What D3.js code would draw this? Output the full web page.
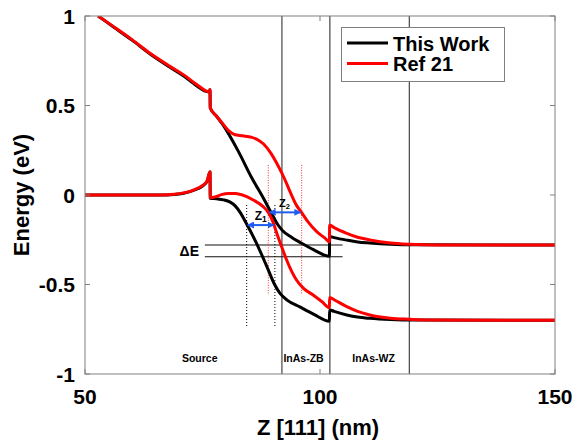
<!DOCTYPE html>
<html>
<head>
<meta charset="utf-8">
<script src="https://cdn.jsdelivr.net/npm/d3@7"></script>
<style>
  body { margin: 0; background: #fff; }
  svg { font-family: 'Liberation Sans', Arial, sans-serif; font-weight: bold; }
</style>
</head>
<body>
<div id="chart"></div>
<script>
// band edges, [z (nm), energy (eV)]
const thisWorkCB = [[52.8, 1.0], [56, 0.94], [60, 0.865], [64, 0.785], [68, 0.715], [71, 0.665], [73, 0.625], [74.5, 0.597], [75.7, 0.579], [76.4, 0.575], [76.6, 0.588], [76.65, 0.486], [78, 0.44], [79.4, 0.39], [82.6, 0.245], [85.5, 0.095], [88, -0.02], [89.5, -0.093], [91, -0.165], [92, -0.198], [94, -0.237], [96, -0.268], [98.6, -0.305], [102, -0.342], [102.05, -0.232], [103, -0.238], [105.7, -0.252], [108, -0.262], [110.6, -0.268], [115, -0.275], [120, -0.278], [150, -0.279]]
const ref21CB = [[52.8, 1.0], [56, 0.942], [60, 0.868], [64, 0.789], [68, 0.72], [71, 0.671], [73, 0.632], [74.5, 0.603], [75.7, 0.582], [76.4, 0.577], [76.6, 0.59], [76.65, 0.486], [78, 0.44], [79.4, 0.395], [80.6, 0.358], [81.8, 0.338], [83.5, 0.331], [85.5, 0.322], [87, 0.305], [88, 0.285], [89.5, 0.235], [90.8, 0.177], [92.5, 0.088], [93.6, 0.02], [95, -0.058], [96.1, -0.098], [97.5, -0.152], [99.3, -0.205], [101, -0.24], [102, -0.262], [102.05, -0.168], [103, -0.182], [105.7, -0.214], [108, -0.236], [110.6, -0.251], [115, -0.268], [119, -0.275], [125, -0.279], [150, -0.28]]
const thisWorkVB = [[50, 0], [66, 0], [69, 0.003], [71, 0.01], [72.5, 0.02], [74, 0.035], [75, 0.05], [76, 0.078], [76.6, 0.128], [76.65, -0.018], [78, -0.021], [79.5, -0.027], [80.9, -0.04], [82, -0.062], [83, -0.097], [84.4, -0.162], [86.5, -0.27], [88.7, -0.4], [90.4, -0.503], [91.5, -0.55], [93, -0.587], [95.7, -0.625], [98.6, -0.665], [102, -0.705], [102.05, -0.642], [103, -0.65], [105.7, -0.67], [108, -0.682], [110.6, -0.689], [115, -0.696], [120, -0.699], [150, -0.7]]
const ref21VB = [[50, 0], [66, 0], [69, 0.004], [71, 0.012], [72.5, 0.022], [74, 0.038], [75, 0.053], [76, 0.08], [76.6, 0.13], [76.65, -0.016], [78, -0.008], [79, 0.002], [80.5, 0.009], [82, 0.008], [83.5, 0.0], [85.8, -0.028], [87.9, -0.065], [89, -0.097], [90, -0.15], [90.8, -0.214], [92, -0.3], [92.9, -0.363], [95, -0.475], [96.5, -0.522], [98.6, -0.56], [100.5, -0.598], [102, -0.63], [102.05, -0.572], [103, -0.585], [105.7, -0.624], [108, -0.65], [110.6, -0.67], [115, -0.688], [119, -0.694], [125, -0.699], [150, -0.7]]

const xTicks = [50, 100, 150]
const yTicks = [-1, -0.5, 0, 0.5, 1]
const regionLines = [91.9, 102.1, 119]
const regionLabels = [['Source', 74.4], ['InAs-ZB', 96.5], ['InAs-WZ', 111.4]]
const seriesNames = ['This Work', 'Ref 21']
const seriesColors = ['#000000', '#ff0000']

// annotation positions in data units
const blackDots = [84.4, 90.4]
const redDots = [89.0, 96.1]
const z1 = [84.4, 90.4, -0.168]
const z2 = [89.0, 96.1, -0.097]
const deltaE = [-0.279, -0.345]

let w = 575, h = 440,
  margin = [16, 20, 66, 85]

let x = d3.scaleLinear().domain([50, 150]).range([margin[3], w - margin[1]])
let y = d3.scaleLinear().domain([-1, 1]).range([h - margin[2], margin[0]])

let svg = d3.select('#chart').append('svg')
  .attr('width', w)
  .attr('height', h)

let defs = svg.append('defs')
defs.append('clipPath').attr('id', 'clip')
  .append('rect')
  .attr('x', x(50)).attr('y', y(1))
  .attr('width', x(150) - x(50)).attr('height', y(-1) - y(1))
defs.append('marker')
  .attr('id', 'arr')
  .attr('viewBox', '0 0 10 10')
  .attr('refX', 9).attr('refY', 5)
  .attr('markerWidth', 3.5).attr('markerHeight', 3.5)
  .attr('orient', 'auto-start-reverse')
  .append('path')
  .attr('d', 'M0,0L10,5L0,10z')
  .attr('fill', '#1f5cf0')

// region dividers
svg.selectAll('.region')
  .data(regionLines)
  .enter()
  .append('line')
  .attr('x1', d => x(d)).attr('x2', d => x(d))
  .attr('y1', y(1)).attr('y2', y(-1))
  .attr('stroke', '#333')
  .attr('stroke-width', 1.1)

svg.selectAll('.rlabel')
  .data(regionLabels)
  .enter()
  .append('text')
  .attr('x', d => x(d[1]))
  .attr('y', 362)
  .attr('text-anchor', 'middle')
  .style('font-size', '10.5px')
  .text(d => d[0])

// delta E lines
svg.selectAll('.de')
  .data(deltaE)
  .enter()
  .append('line')
  .attr('x1', x(75.5)).attr('x2', x(104.8))
  .attr('y1', d => y(d)).attr('y2', d => y(d))
  .attr('stroke', '#111')
  .attr('stroke-width', 1.1)

svg.append('text')
  .attr('x', 199)
  .attr('y', (y(deltaE[0]) + y(deltaE[1])) / 2 + 5)
  .attr('text-anchor', 'end')
  .style('font-size', '14px')
  .text('ΔE')

// dotted guides
svg.selectAll('.bdot')
  .data(blackDots)
  .enter()
  .append('line')
  .attr('x1', d => x(d)).attr('x2', d => x(d))
  .attr('y1', y(-0.056)).attr('y2', y(-0.736))
  .attr('stroke', '#000')
  .attr('stroke-width', 1)
  .attr('stroke-dasharray', '1,2')

svg.selectAll('.rdot')
  .data(redDots)
  .enter()
  .append('line')
  .attr('x1', d => x(d)).attr('x2', d => x(d))
  .attr('y1', y(0.168)).attr('y2', y(-0.559))
  .attr('stroke', '#ff3030')
  .attr('stroke-width', 1)
  .attr('stroke-dasharray', '1,1.5')

// curves
let line = d3.line()
  .x(d => x(d[0]))
  .y(d => y(d[1]))
  .curve(d3.curveMonotoneX)

let curves = svg.append('g').attr('clip-path', 'url(#clip)')
curves.selectAll('.band')
  .data([[thisWorkCB, 0], [thisWorkVB, 0], [ref21CB, 1], [ref21VB, 1]])
  .enter()
  .append('path')
  .attr('d', d => line(d[0]))
  .attr('fill', 'none')
  .attr('stroke', d => seriesColors[d[1]])
  .attr('stroke-width', 3)
  .attr('stroke-linejoin', 'round')

// Z1 / Z2 arrows
svg.selectAll('.zarr')
  .data([z1, z2])
  .enter()
  .append('line')
  .attr('x1', d => x(d[0]) + 1).attr('x2', d => x(d[1]) - 1)
  .attr('y1', d => y(d[2])).attr('y2', d => y(d[2]))
  .attr('stroke', '#1f5cf0')
  .attr('stroke-width', 2)
  .attr('marker-start', 'url(#arr)')
  .attr('marker-end', 'url(#arr)')

let zl = svg.selectAll('.zlab')
  .data([[z1, '1', 12, 8.5], [z2, '2', 11, 7.5]])
  .enter()
  .append('text')
  .attr('x', d => x((d[0][0] + d[0][1]) / 2) - 6)
  .attr('y', d => y(d[0][2]) - 5)
  .style('font-size', d => d[2] + 'px')
zl.append('tspan').text('Z')
zl.append('tspan')
  .attr('dy', 2)
  .style('font-size', d => d[3] + 'px')
  .text(d => d[1])

// axes box and ticks
let box = svg.append('g').attr('stroke', '#808080').attr('stroke-width', 1)
box.append('rect')
  .attr('x', x(50)).attr('y', y(1))
  .attr('width', x(150) - x(50)).attr('height', y(-1) - y(1))
  .attr('fill', 'none')
box.selectAll('.xt')
  .data(xTicks)
  .enter()
  .append('path')
  .attr('d', d => `M${x(d)},${y(-1)}v-5M${x(d)},${y(1)}v5`)
box.selectAll('.yt')
  .data(yTicks)
  .enter()
  .append('path')
  .attr('d', d => `M${x(50)},${y(d)}h5M${x(150)},${y(d)}h-5`)

svg.selectAll('.xl')
  .data(xTicks)
  .enter()
  .append('text')
  .attr('x', d => x(d))
  .attr('y', 404)
  .attr('text-anchor', 'middle')
  .style('font-size', '21px')
  .text(d => d)

svg.selectAll('.yl')
  .data(yTicks)
  .enter()
  .append('text')
  .attr('x', 75)
  .attr('y', d => y(d) + 7.5)
  .attr('text-anchor', 'end')
  .style('font-size', '21px')
  .text(d => d)

svg.append('text')
  .attr('x', x(100) - 2)
  .attr('y', 435)
  .attr('text-anchor', 'middle')
  .style('font-size', '22px')
  .text('Z [111] (nm)')

svg.append('text')
  .attr('transform', `translate(29, ${y(0)}) rotate(-90)`)
  .attr('text-anchor', 'middle')
  .style('font-size', '22px')
  .text('Energy (eV)')

// legend
let lg = svg.append('g')
lg.append('rect')
  .attr('x', 341.5).attr('y', 27.5)
  .attr('width', 163).attr('height', 54)
  .attr('fill', '#fff')
  .attr('stroke', '#808080')
let item = lg.selectAll('.item')
  .data(seriesNames)
  .enter()
  .append('g')
  .attr('transform', (d, i) => `translate(0, ${43 + i * 20.5})`)
item.append('line')
  .attr('x1', 347).attr('x2', 388)
  .attr('stroke', (d, i) => seriesColors[i])
  .attr('stroke-width', 3)
item.append('text')
  .attr('x', 393)
  .attr('y', 7.5)
  .style('font-size', '20px')
  .text(d => d)
</script>
</body>
</html>
